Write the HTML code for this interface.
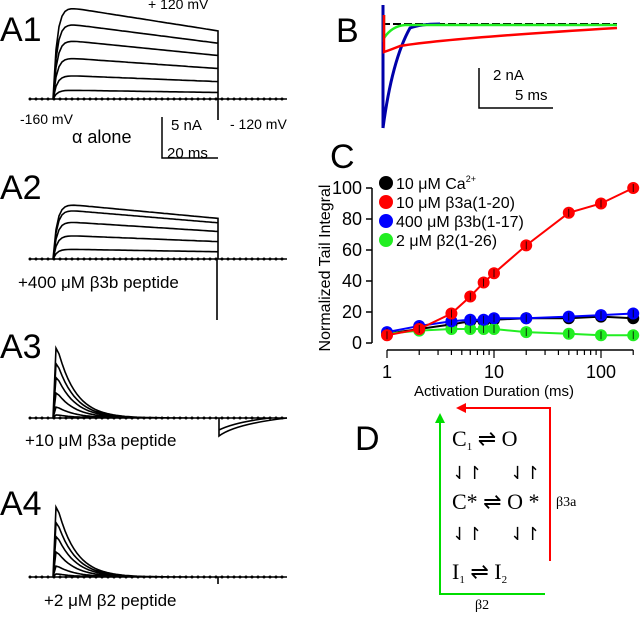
<!DOCTYPE html>
<html><head><meta charset="utf-8"><style>
body{margin:0;background:#fff;width:640px;height:619px;overflow:hidden}
svg{display:block;font-family:"Liberation Sans",sans-serif}
</style></head><body>
<svg id="s" width="640" height="619" viewBox="0 0 640 619">
<g font-size="34" fill="#000">
<text x="0" y="41">A1</text>
<text x="0" y="199">A2</text>
<text x="0" y="358">A3</text>
<text x="0" y="515">A4</text>
<text x="336" y="42">B</text>
<text x="330" y="168">C</text>
<text x="355" y="450">D</text>
</g>
<g font-size="14">
<text x="148" y="9">+ 120 mV</text>
<text x="20" y="124">-160 mV</text>
<text x="230" y="129">- 120 mV</text>
<text x="72" y="143" font-size="18">α alone</text>
<text x="171" y="130" font-size="15">5 nA</text>
<text x="167" y="158" font-size="15">20 ms</text>
<text x="18" y="288" font-size="17">+400 μM β3b peptide</text>
<text x="25" y="446" font-size="17">+10 μM β3a peptide</text>
<text x="44" y="606" font-size="17">+2 μM β2 peptide</text>
<text x="493" y="80" font-size="15">2 nA</text>
<text x="515" y="100" font-size="15">5 ms</text>
</g>
<path d="M162,117 V158 H218" stroke="#000" stroke-width="1.5" fill="none"/>
<path d="M479,68 V108 H553" stroke="#000" stroke-width="1.5" fill="none"/>
<g id="traces" fill="none" stroke="#000" stroke-width="1.6"></g>
<g id="chartC"></g>
<g font-family="'Liberation Serif',serif" font-size="22">
<text x="452" y="446">C<tspan font-size="11" dy="4">1</tspan><tspan dy="-4"> ⇌ O</tspan></text>
<text x="452" y="479" font-size="18">⇃↾</text>
<text x="510" y="479" font-size="18">⇃↾</text>
<text x="452" y="509">C* ⇌ O *</text>
<text x="452" y="540" font-size="18">⇃↾</text>
<text x="510" y="540" font-size="18">⇃↾</text>
<text x="452" y="579">I<tspan font-size="11" dy="4">1</tspan><tspan dy="-4"> ⇌ I</tspan><tspan font-size="11" dy="4">2</tspan></text>
<text x="556" y="506" font-size="14">β3a</text>
<text x="475" y="609" font-size="14">β2</text>
<path d="M550,561 V408 H462" stroke="#f00" stroke-width="2" fill="none"/>
<path d="M456,408 l10,-5 v10z" fill="#f00"/>
<path d="M545,594 H440 V422" stroke="#0d0" stroke-width="2" fill="none"/>
<path d="M440,413 l-5,10 h10z" fill="#0d0"/>
</g>
</svg>
<script>
const durations=[1,2,4,6,8,10,20,50,100,200];
const redVals=[5,9,19,30,39,45,63,84,90,100];
const blueVals=[7,11,14,15,15,16,16,17,18,19];
const blackVals=[6,9,12,14,14,15,16,16,17,16];
const greenVals=[6,8,9,9,9,9,7,6,5,5];
const yTicks=[0,20,40,60,80,100];
const xTickLabels=[1,10,100];
const NS="http://www.w3.org/2000/svg";
function mk(tag,attrs,parent){const e=document.createElementNS(NS,tag);for(const k in attrs)e.setAttribute(k,attrs[k]);parent.appendChild(e);return e;}
const X=v=>387+Math.log10(v)*107, Y=v=>343-v*1.55;
const C=document.getElementById('chartC');
let ax=mk('path',{d:`M372,${Y(100)} V${Y(0)}`,stroke:'#000','stroke-width':1.5,fill:'none'},C);


yTicks.forEach(t=>{mk('line',{x1:366,x2:372,y1:Y(t),y2:Y(t),stroke:'#000','stroke-width':1.5},C);
 const tx=mk('text',{x:362,y:Y(t)+6,'text-anchor':'end','font-size':18},C);tx.textContent=t;
 
 });
let xa=mk('line',{x1:X(1),x2:X(200),y1:350,y2:350,stroke:'#000','stroke-width':1.5},C);


for(let d=1;d<=200;d*=10)for(let m=1;m<10;m++){const v=d*m;if(v>200)break;mk('line',{x1:X(v),x2:X(v),y1:350,y2:m==1?358:355,stroke:'#000','stroke-width':1.2},C);}
xTickLabels.forEach(t=>{const tx=mk('text',{x:X(t),y:378,'text-anchor':'middle','font-size':18},C);tx.textContent=t;
 
 });
let xt=mk('text',{x:494,y:396,'text-anchor':'middle','font-size':15},C);xt.textContent='Activation Duration (ms)';


let yt=mk('text',{x:0,y:0,transform:'translate(330,268) rotate(-90)','text-anchor':'middle','font-size':16},C);yt.textContent='Normalized Tail Integral';


const series=[[blackVals,'#000','black'],[greenVals,'#2e2','green'],[blueVals,'#00f','blue'],[redVals,'#f00','red']];
series.forEach(([vals,col,nm])=>{
 const p=mk('polyline',{points:vals.map((v,i)=>X(durations[i])+','+Y(v)).join(' '),stroke:col,'stroke-width':2,fill:'none'},C);
 
 
 vals.forEach((v,i)=>{const c=mk('circle',{cx:X(durations[i]),cy:Y(v),r:6,fill:col},C);
  
  
  mk('line',{x1:X(durations[i]),x2:X(durations[i]),y1:Y(v)-4,y2:Y(v)+4,stroke:'#000','stroke-width':0.8},C);});
});
const leg=[['10 μM Ca','#000'],['10 μM β3a(1-20)','#f00'],['400 μM β3b(1-17)','#00f'],[' 2 μM β2(1-26)','#2e2']];
leg.forEach(([t,c],i)=>{const y=183+i*19;mk('circle',{cx:386,cy:y,r:7,fill:c},C);
 const tx=mk('text',{x:396,y:y+6,'font-size':16},C);tx.textContent=t;
 if(i==0){const s=mk('tspan',{'font-size':9,dy:-7},tx);s.textContent='2+';}
 
 });
const T=document.getElementById('traces');
function tr(d,nm){const p=mk('path',{d},T);}
function panel(base,amps,kind,nm){
 let d=`M30,${base} H287 `;
 amps.forEach(a=>{let s=`M53,${base} `;for(let x=53;x<=218;x+=3){const t=x-53;let y;
  if(kind=='sus')y=base-a*(1-Math.exp(-t/4))*(1-t/600);
  else y=base-a*(1-Math.exp(-t/1.2))*Math.exp(-t/18);s+=`L${x},${y.toFixed(1)} `;}
  s+=`L218,${base}`;d+=s;});
 tr(d,nm);
 for(let x=30;x<=287;x+=6)mk('circle',{cx:x,cy:base,r:1.5,fill:'#000',stroke:'none'},T);
}
panel(99,[94,77,60,42,24,9],'sus','a1-traces');tr('M218,99 V120','a1-tail');
panel(259,[56,50,38,24,10],'sus','a2-traces');tr('M217,259 V320','a2-tail');
panel(418,[90,70,52,32,14,4],'dec','a3-traces');
tr('M219,418 V436 Q235,424 287,418 M219,418 V430 Q235,422 270,418','a3-tail');
panel(577,[90,70,52,32,14,4],'dec','a4-traces');tr('M218,577 V584','a4-tail');
const B=mk('g',{},document.getElementById('s'));


mk('path',{d:'M382,24 H617',stroke:'#000','stroke-width':2,fill:'none','stroke-dasharray':'8 3'},B);
mk('path',{d:'M383,5 V128 M383,128 Q392,60 410,28 Q420,24 440,24',stroke:'#00a','stroke-width':3,fill:'none'},B);
mk('path',{d:'M384,15 V38 Q392,26 405,25 H617',stroke:'#2e2','stroke-width':2.5,fill:'none'},B);
mk('path',{d:'M384,15 V52 Q390,50 400,46 Q450,38 617,28',stroke:'#f00','stroke-width':2.5,fill:'none'},B);
</script>
</body></html>
